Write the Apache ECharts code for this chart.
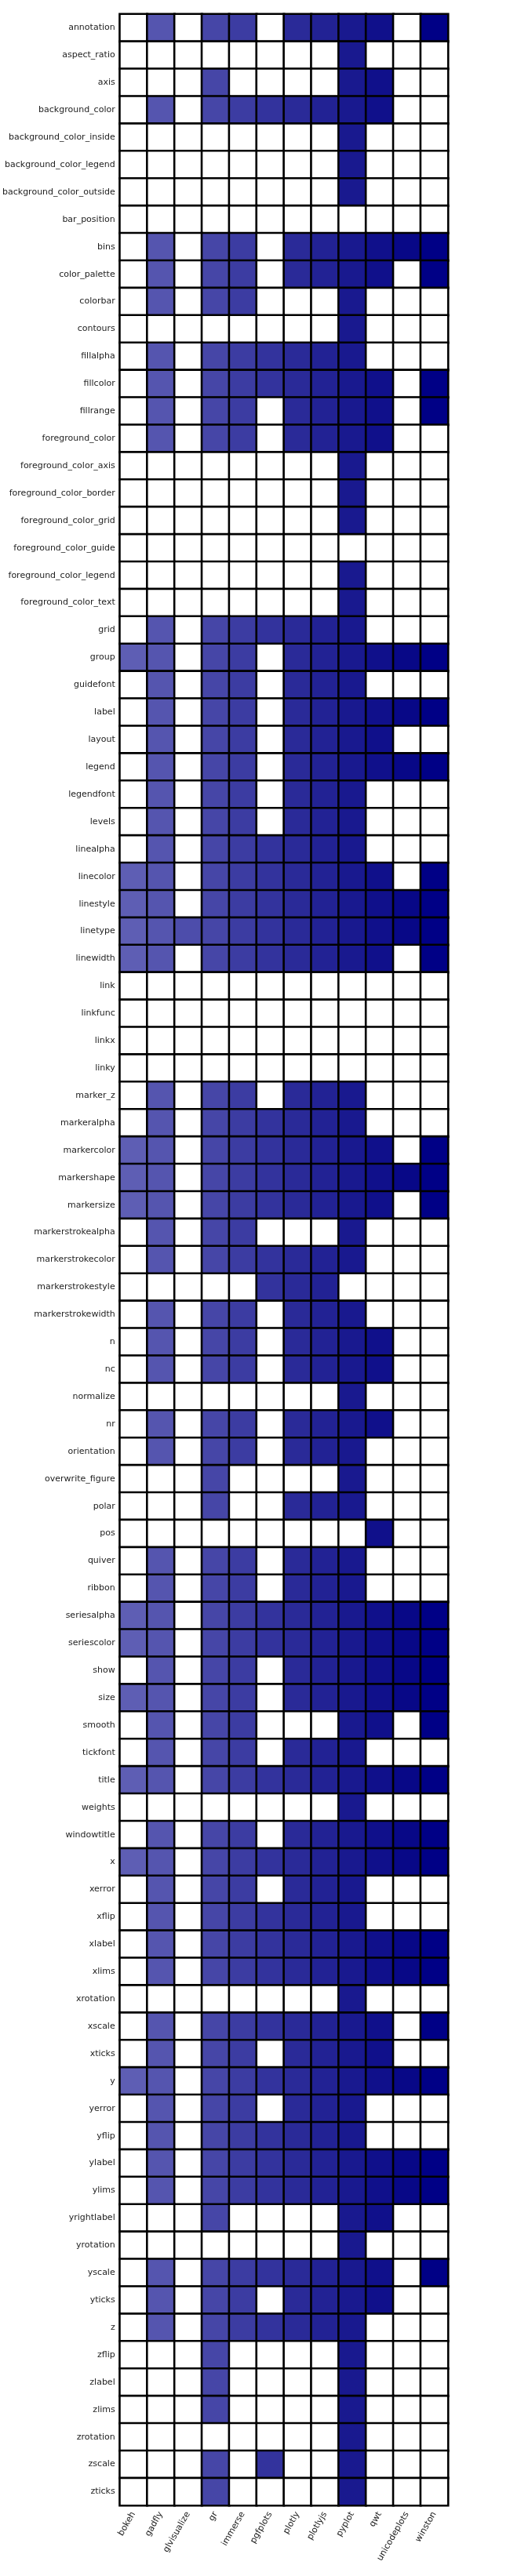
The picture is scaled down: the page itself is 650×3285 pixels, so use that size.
<!DOCTYPE html>
<html>
<head>
<meta charset="utf-8">
<script src="https://cdn.jsdelivr.net/npm/echarts@6/dist/echarts.min.js"></script>
<style>
html,body{margin:0;padding:0;background:#fff;}
#chart{width:650px;height:3285px;}
</style>
</head>
<body>
<div id="chart"></div>
<script>
const backends = ["bokeh","gadfly","glvisualize","gr","immerse","pgfplots","plotly","plotlyjs","pyplot","qwt","unicodeplots","winston"];

const attributes = ["annotation","aspect_ratio","axis","background_color","background_color_inside","background_color_legend","background_color_outside","bar_position","bins","color_palette","colorbar","contours","fillalpha","fillcolor","fillrange","foreground_color","foreground_color_axis","foreground_color_border","foreground_color_grid","foreground_color_guide","foreground_color_legend","foreground_color_text","grid","group","guidefont","label","layout","legend","legendfont","levels","linealpha","linecolor","linestyle","linetype","linewidth","link","linkfunc","linkx","linky","marker_z","markeralpha","markercolor","markershape","markersize","markerstrokealpha","markerstrokecolor","markerstrokestyle","markerstrokewidth","n","nc","normalize","nr","orientation","overwrite_figure","polar","pos","quiver","ribbon","seriesalpha","seriescolor","show","size","smooth","tickfont","title","weights","windowtitle","x","xerror","xflip","xlabel","xlims","xrotation","xscale","xticks","y","yerror","yflip","ylabel","ylims","yrightlabel","yrotation","yscale","yticks","z","zflip","zlabel","zlims","zrotation","zscale","zticks"];

// one string per attribute, one digit per backend (1 = supported)
const supportRows = [
"010110111101","000000001000","000100001100","010111111100","000000001000","000000001000","000000001000","000000000000",
"010110111111","010110111101","010110001000","000000001000","010111111000","010111111101","010110111101","010110111100",
"000000001000","000000001000","000000001000","000000000000","000000001000","000000001000","010111111000","110110111111",
"010110111000","010110111111","010110111100","010110111111","010110111000","010110111000","010111111000","110111111101",
"110111111111","111111111111","110111111101","000000000000","000000000000","000000000000","000000000000","010110111000",
"010111111000","110111111101","110111111111","110111111101","010110001000","010111111000","000001110000","010110111000",
"010110111100","010110111100","000000001000","010110111100","010110111000","000100001000","000100111000","000000000100",
"010110111000","010110111000","110111111111","110111111111","010110111111","110110111111","010110001101","010110111000",
"110111111111","000000001000","010110111111","110111111111","010110111000","010111111000","010111111111","010111111111",
"000000001000","010111111101","010110111100","110111111111","010110111000","010111111000","010111111111","010111111111",
"000100001100","000000001000","010111111101","010110111100","010111111000","000100001000","000100001000","000100001000",
"000000001000","000101001000","000100001000"
];

const backendColors = ["#5e5eb4","#5555af","#4d4dab","#4646a7","#3c3ca2","#33339d","#2a2a98","#222294","#19198f","#10108b","#080887","#000086"];

const data = [];
supportRows.forEach(function (row, yi) {
  row.split("").forEach(function (ch, xi) {
    data.push([xi, yi, ch === "1" ? xi + 1 : 0]);
  });
});

const pieces = [{value: 0, color: "#ffffff"}];
backendColors.forEach(function (c, i) { pieces.push({value: i + 1, color: c}); });

const chart = echarts.init(document.getElementById("chart"), null, {renderer: "canvas"});
chart.setOption({
  animation: false,
  backgroundColor: "#ffffff",
  textStyle: {fontFamily: "DejaVu Sans"},
  grid: {left: 152, top: 18, width: 419, height: 3177, show: true, borderColor: "#9a9a9a", borderWidth: 1, backgroundColor: "transparent"},
  xAxis: {
    type: "category",
    data: backends,
    position: "bottom",
    axisLine: {show: false},
    axisTick: {show: false},
    splitLine: {show: false},
    axisLabel: {rotate: 60, fontSize: 11, color: "#222", margin: 9, fontFamily: "DejaVu Sans", interval: 0}
  },
  yAxis: {
    type: "category",
    data: attributes,
    inverse: true,
    axisLine: {show: false},
    axisTick: {show: false},
    splitLine: {show: false},
    axisLabel: {fontSize: 11, color: "#222", margin: 6, fontFamily: "DejaVu Sans", interval: 0}
  },
  visualMap: {
    type: "piecewise",
    show: false,
    dimension: 2,
    pieces: pieces
  },
  series: [{
    type: "heatmap",
    data: data,
    itemStyle: {borderColor: "#000000", borderWidth: 2.6},
    emphasis: {disabled: true},
    progressive: 0
  }]
});
</script>
</body>
</html>
